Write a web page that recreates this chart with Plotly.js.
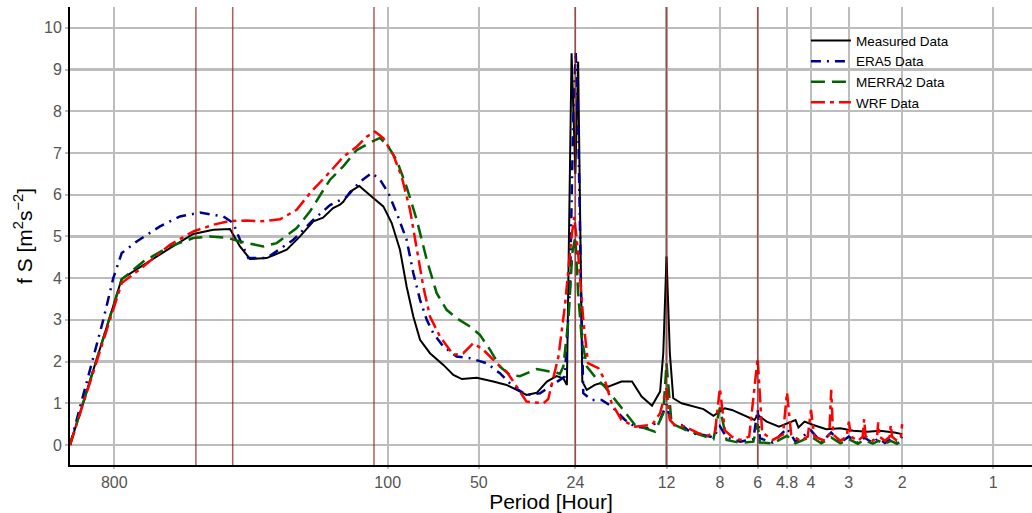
<!DOCTYPE html>
<html>
<head>
<meta charset="utf-8">
<script src="https://cdn.plot.ly/plotly-3.0.1.min.js"></script>
<style>html,body{margin:0;padding:0;background:#fff;}#chart{width:1032px;height:513px;}</style>
</head>
<body>
<div id="chart"></div>
<script>
// ---- Data (period in hours, spectral value fS in m^2 s^-2) ----
const measuredPeriod = [1120,756,523.6,438.5,376.7,331.8,307.5,285,251,215.5,194.8,176,163.5,151.5,143.7,140.2,133.2,124.1,111.6,103.4,97,91.1,86.6,82.3,78.2,72.5,65.5,60.7,56.9,50.8,44.8,40.5,37.5,34.8,32.2,29.8,27.7,26.3,25.6,24.7,24.0,23.5,22.77,22.0,20.7,19.9,18.7,16.9,15.6,14.5,13.4,12.6,12.3,12.0,11.7,11.4,10.7,9.9,9.06,8.4,8.0,7.7,7.3,6.7,6.15,6.0,5.6,5.1,4.8,4.5,4.4,4.2,3.93,3.56,3.2,2.9,2.6,2.37,2.12,2.0];
const measuredValue  = [0,3.98,4.72,5.06,5.16,5.18,4.76,4.46,4.48,4.68,5.0,5.36,5.45,5.68,5.76,5.83,6.07,6.21,5.92,5.72,5.32,4.68,3.80,3.08,2.52,2.20,1.92,1.68,1.58,1.61,1.52,1.44,1.32,1.20,1.25,1.52,1.65,1.60,1.44,9.39,6.5,9.19,1.52,1.32,1.44,1.48,1.40,1.52,1.52,1.16,0.94,1.28,2.2,4.52,2.2,1.12,1.0,0.94,0.86,0.70,0.80,0.88,0.84,0.72,0.60,0.72,0.56,0.44,0.52,0.60,0.42,0.56,0.48,0.38,0.40,0.34,0.32,0.34,0.30,0.26];

const era5Period = [1120,869.6,805.9,756,674.4,564.9,485.2,416.8,349.1,323.6,307.5,288.6,251,204.9,176,155,136.6,123.5,112.9,106,99.5,93.4,86.6,82.3,78.2,74.3,70.7,65.5,59.2,53.5,47.1,42.6,38.5,34.8,31.4,28.0,26.0,25.0,24.4,23.94,23.5,23.0,22.6,21.2,19.65,18.2,16.45,15.25,13.8,12.6,12.0,11.55,10.7,9.9,9.06,8.4,8.0,7.6,6.85,6.2,6.0,5.9,5.35,4.8,4.5,4.0,3.7,3.43,3.2,3.0,2.8,2.67,2.5,2.4,2.28,2.18,2.08,2.0];
const era5Value  = [0,3.0,4.0,4.6,4.88,5.24,5.48,5.57,5.48,5.32,4.92,4.48,4.48,4.92,5.40,5.75,5.95,6.31,6.52,6.36,6.04,5.56,4.92,4.12,3.48,3.0,2.68,2.36,2.12,2.08,1.96,1.72,1.40,1.20,1.24,1.48,1.64,3.8,7.8,9.43,7.8,3.8,1.24,1.08,1.08,0.92,0.60,0.44,0.40,0.60,0.98,0.48,0.48,0.28,0.24,0.18,0.45,0.18,0.08,0.14,0.85,0.16,0.06,0.40,0.08,0.35,0.06,0.30,0.06,0.20,0.05,0.18,0.05,0.16,0.05,0.14,0.05,0.20];

const merra2Period = [1120,756,641.4,523.6,438.5,386.3,340.2,307.5,257.6,232.6,199.8,180.5,163.5,155,140.2,126.6,112.9,106,99.5,93.4,86.6,80.2,74.3,68.9,63.9,59.2,53.5,49.6,45.9,42.6,39.5,36.6,32.2,29.1,28.0,27.0,26.3,25.3,24.57,24.0,23.5,22.9,22.0,20.7,19.2,17.75,16.45,15.25,13.1,12.3,12.0,11.55,10.4,9.2,8.4,8.0,7.6,6.85,6.2,6.0,5.9,5.35,4.8,4.5,4.0,3.7,3.43,3.2,3.0,2.8,2.67,2.5,2.4,2.28,2.18,2.08,2.0];
const merra2Value  = [0,3.97,4.40,4.76,4.96,5.0,4.97,4.88,4.76,4.84,5.2,5.6,6.1,6.36,6.68,7.07,7.27,7.36,7.15,6.83,6.19,5.40,4.44,3.64,3.24,3.04,2.84,2.64,2.28,1.88,1.68,1.65,1.82,1.76,1.76,1.70,1.88,3.0,4.6,5.0,3.64,2.6,1.88,1.64,1.40,1.08,0.76,0.48,0.32,0.76,1.96,0.52,0.36,0.24,0.14,0.9,0.12,0.05,0.08,0.5,0.06,0.04,0.22,0.04,0.2,0.04,0.18,0.04,0.14,0.03,0.12,0.03,0.1,0.03,0.1,0.03,0.1];

const wrfPeriod = [1120,756,641.4,523.6,438.5,376.7,331.8,292.2,264.1,226.8,199.8,180.5,155,140.2,126.6,117.3,110.1,103.4,95.8,89.9,84.4,80.2,76.3,72.5,67.2,60.7,56.3,52.2,48.3,43.7,40.5,37.5,34.8,30.6,29.5,27.3,26.0,24.7,24.2,23.5,22.6,21.8,20.15,19.2,18.2,16.9,15.25,13.4,12.6,12.0,11.7,11.28,10.4,9.4,8.8,8.3,8.0,7.7,7.3,6.85,6.4,6.0,5.8,5.35,4.95,4.8,4.65,4.35,4.1,4.0,3.9,3.6,3.48,3.43,3.38,3.2,3.05,3.0,2.95,2.8,2.7,2.67,2.64,2.5,2.42,2.4,2.38,2.28,2.2,2.18,2.16,2.08,2.02,2.0];
const wrfValue  = [0,3.88,4.28,4.80,5.12,5.28,5.37,5.38,5.36,5.41,5.64,6.04,6.55,6.91,7.15,7.39,7.51,7.36,6.95,6.43,5.64,4.76,3.80,3.08,2.60,2.16,2.20,2.44,2.28,1.96,1.76,1.40,1.04,1.0,1.1,2.12,3.32,5.0,5.47,4.6,3.0,1.96,1.84,1.56,1.0,0.60,0.44,0.48,0.76,1.36,0.6,0.48,0.44,0.28,0.22,0.3,1.36,0.35,0.2,0.12,0.2,2.08,0.3,0.12,0.25,1.26,0.25,0.1,0.2,0.84,0.2,0.1,0.25,1.32,0.25,0.1,0.2,0.56,0.2,0.1,0.2,0.62,0.2,0.1,0.2,0.54,0.2,0.1,0.2,0.48,0.2,0.1,0.2,0.5];

const markerPeriods = [430,325,111,24,12,6];
const tickPeriods = [800,100,50,24,12,8,6,4.8,4,3,2,1];
const tickLabels = ['800','100','50','24','12','8','6','4.8','4','3','2','1'];
const yTicks = [0,1,2,3,4,5,6,7,8,9,10];

const series = [
  {name:'Measured Data', x:measuredPeriod, y:measuredValue, color:'#000000', dash:'solid', width:2},
  {name:'ERA5 Data', x:era5Period, y:era5Value, color:'#00008B', dash:'10px,6px,2px,6px', width:2.5},
  {name:'MERRA2 Data', x:merra2Period, y:merra2Value, color:'#006400', dash:'14px,7px', width:2.5},
  {name:'WRF Data', x:wrfPeriod, y:wrfValue, color:'#FF0000', dash:'14px,5px,4px,5px', width:2.5}
];

const yRange = [-0.48, 10.5];
const traces = series.map(s => ({
  type:'scatter', mode:'lines', name:s.name, x:s.x, y:s.y,
  line:{color:s.color, dash:s.dash, width:s.width, shape:'linear'}
}));
markerPeriods.forEach(p => {
  traces.push({type:'scatter', mode:'lines', x:[p,p], y:yRange, showlegend:false, hoverinfo:'skip',
    line:{color:'rgba(139,26,26,0.7)', width:1.5}});
});

const layout = {
  width:1032, height:513,
  margin:{l:70, r:0, t:7, b:48},
  paper_bgcolor:'#ffffff', plot_bgcolor:'#ffffff',
  font:{family:'"Liberation Sans", Arial, sans-serif', color:'#000'},
  showlegend:true,
  legend:{x:0.765, y:0.96, xanchor:'left', yanchor:'top', bgcolor:'rgba(0,0,0,0)', borderwidth:0,
    font:{size:13.5, color:'#000'}, itemwidth:40, tracegroupgap:0},
  xaxis:{type:'log', range:[Math.log10(1120), Math.log10(0.745)],
    tickvals:tickPeriods, ticktext:tickLabels, tickfont:{size:16, color:'#555555'},
    showgrid:true, gridcolor:'#bdbdbd', gridwidth:2.2, zeroline:false,
    showline:true, linecolor:'#000', linewidth:2,
    ticks:'outside', ticklen:2, tickcolor:'#bdbdbd', tickwidth:2,
    title:{text:'Period [Hour]', font:{size:21, color:'#000'}, standoff:5}},
  yaxis:{range:yRange, tickvals:yTicks, tickfont:{size:16, color:'#555555'},
    showgrid:true, gridcolor:'#bdbdbd', gridwidth:2.2, zeroline:false,
    showline:true, linecolor:'#000', linewidth:2,
    ticks:'outside', ticklen:3, tickcolor:'#bdbdbd', tickwidth:2,
    title:{text:'f S [m<sup>2</sup>s<sup>−2</sup>]', font:{size:21, color:'#000'}, standoff:6}}
};

Plotly.newPlot('chart', traces, layout, {displayModeBar:false, staticPlot:true});
</script>
</body>
</html>
